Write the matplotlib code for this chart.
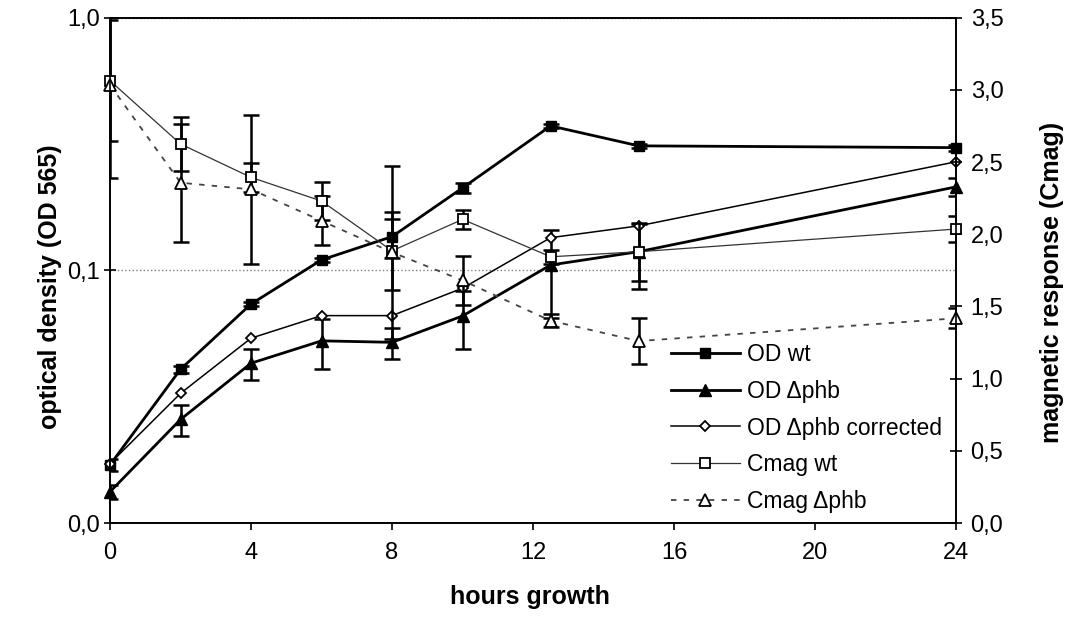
import matplotlib
matplotlib.use("Agg")
import matplotlib.pyplot as plt
from matplotlib.ticker import FixedLocator, FuncFormatter, NullLocator

plt.rcParams['font.family'] = ['Liberation Sans', 'DejaVu Sans']

# values
hours = [0, 2, 4, 6, 8, 10, 12.5, 15, 24]

od_wt = [0.0170, 0.0406, 0.0736, 0.110, 0.136, 0.212, 0.373, 0.311, 0.306]
od_wt_err = [0.0010, 0.0012, 0.0015, 0.002, 0.024, 0.010, 0.006, 0.005, 0.008]

od_phb = [0.0133, 0.0257, 0.0429, 0.0526, 0.0519, 0.066, 0.105, 0.1186, 0.214]
od_phb_err = [0.0009, 0.0036, 0.006, 0.0118, 0.0073, 0.017, 0.040, 0.034, 0.017]

od_phb_corr = [0.0172, 0.0326, 0.0539, 0.0662, 0.0662, 0.085, 0.1347, 0.150, 0.269]

cmag_wt = [3.063, 2.625, 2.394, 2.23, 1.885, 2.103, 1.844, 1.879, 2.036]
cmag_wt_err = [0.42, 0.185, 0.10, 0.13, 0.27, 0.065, 0.05, 0.20, 0.087]

cmag_phb = [3.033, 2.357, 2.311, 2.093, 1.875, 1.68, 1.401, 1.26, 1.418]
cmag_phb_err = [0.644, 0.41, 0.516, 0.17, 0.60, 0.17, 0.045, 0.157, 0.07]

labels = ['OD wt', 'OD \u0394phb', 'OD \u0394phb corrected', 'Cmag wt', 'Cmag \u0394phb']

fig = plt.figure(figsize=(10.8, 6.23), dpi=100)
ax = fig.add_axes([0.1019, 0.1605, 0.7833, 0.8111])
ax2 = ax.twinx()

eb = dict(fmt='none', ecolor='black', elinewidth=1.8, capsize=6, capthick=1.8)
ax.errorbar(hours, od_wt, yerr=od_wt_err, **eb)
ax.errorbar(hours, od_phb, yerr=od_phb_err, **eb)
ax2.errorbar(hours, cmag_wt, yerr=cmag_wt_err, **eb)
ax2.errorbar(hours, cmag_phb, yerr=cmag_phb_err, **eb)

l1, = ax.plot(hours, od_wt, color='black', lw=2, marker='s', ms=7.5,
              mfc='black', mec='black', clip_on=False)
l2, = ax.plot(hours, od_phb, color='black', lw=2, marker='^', ms=8.5,
              mfc='black', mec='black', clip_on=False)
l3, = ax.plot(hours, od_phb_corr, color='black', lw=1.1, marker='D', ms=5.5,
              mfc='white', mec='black', mew=1.3, clip_on=False)
l4, = ax2.plot(hours, cmag_wt, color='#333333', lw=0.9, marker='s', ms=7.5,
               mfc='white', mec='black', mew=1.3, clip_on=False)
l5, = ax2.plot(hours, cmag_phb, color='#444444', lw=1.3, ls=(0, (3, 4)),
               marker='^', ms=8.5, mfc='white', mec='black', mew=1.3, clip_on=False)

ax.set_xlim(0, 24)
ax.set_xticks(range(0, 25, 4))
ax.set_yscale('log')
ax.set_ylim(0.01, 1)
ax.yaxis.set_major_locator(FixedLocator([0.01, 0.1, 1]))
ax.yaxis.set_minor_locator(NullLocator())
comma = FuncFormatter(lambda v, p: f"{v:.1f}".replace('.', ','))
ax.yaxis.set_major_formatter(comma)
ax.yaxis.grid(True, which='major', ls=':', color='gray', lw=1)

ax2.set_ylim(0, 3.5)
ax2.set_yticks([0, 0.5, 1, 1.5, 2, 2.5, 3, 3.5])
ax2.yaxis.set_major_formatter(comma)

for a in (ax, ax2):
    for s in a.spines.values():
        s.set_linewidth(1.2)
        s.set_color('black')

ax.tick_params(axis='x', direction='out', length=5, width=1.2, labelsize=17, pad=9)
ax.tick_params(axis='y', direction='inout', length=9, width=1.2, labelsize=17, pad=3)
ax2.tick_params(axis='y', direction='inout', length=9, width=1.2, labelsize=17, pad=6)

fig.text(530 / 1080, 1 - 597 / 623, 'hours growth', ha='center', va='center',
         fontsize=18, fontweight='bold')
fig.text(50 / 1080, 1 - 287 / 623, 'optical density (OD 565)', rotation=90,
         ha='center', va='center', fontsize=18, fontweight='bold')
fig.text(1052 / 1080, 1 - 282 / 623, 'magnetic response (Cmag)', rotation=90,
         ha='center', va='center', fontsize=18, fontweight='bold')

ax2.legend([l1, l2, l3, l4, l5], labels, loc='center left',
           bbox_to_anchor=(0.663, 0.188), frameon=False, fontsize=16.5,
           handlelength=3.0, handletextpad=0.3, labelspacing=0.6,
           borderpad=0, borderaxespad=0)

fig.savefig('out.png', dpi=100)
